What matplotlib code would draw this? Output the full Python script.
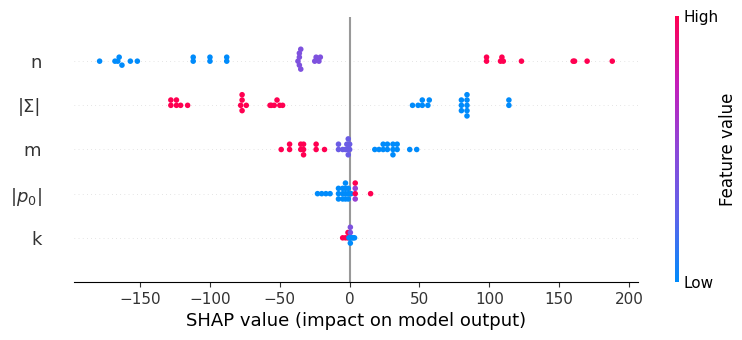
import numpy as np
import matplotlib
matplotlib.use("Agg")
import matplotlib.pyplot as plt
from matplotlib.colors import LinearSegmentedColormap

# features, top to bottom
features = ["n", "|Σ|", "m", "$|p_0|$", "k"]

# SHAP values and (normalised) feature values per feature
n_shap = [-179, -168, -166, -165, -163, -157, -152, -112, -112, -100, -100, -88, -88,
          -37, -36, -36, -36, -35, -35, -25, -24, -22, -21,
          98, 98, 108, 109, 110, 123, 160, 161, 170, 188]
n_feat = [0.0] * 13 + [0.42] * 10 + [1.0] * 10

sig_shap = [-128, -128, -124, -124, -121, -116, -78, -77, -77, -77, -74,
            -57, -56, -54, -52, -50, -48,
            45, 49, 52, 52, 56, 57, 80, 80, 80, 84, 84, 84, 84, 84, 114, 114]
sig_feat = [1.0] * 17 + [0.0] * 16

m_shap = [-49, -43, -43, -35, -35, -33, -33, -33, -24, -24, -18,
          -8, -8, -5, -3, -2, -2, -1, -1, -1, -1, 0, 0,
          18, 21, 24, 24, 27, 27, 31, 31, 31, 34, 34, 43, 48]
m_feat = [1.0] * 11 + [0.32] * 12 + [0.0] * 13

p0_shap = [-23, -20, -17, -14, -8, -8, -8, -5, -5, -5, -3, -3, -3, -3, -1, -1, -1, 1,
           4, 4, 4, 4, 15]
p0_feat = [0.0] * 18 + [1.0, 0.55, 0.55, 1.0, 1.0]

k_shap = [-5, -3, -1.2, -1.2, 0.5, 0.5, 0.5, 0.5, 2.5, 3.5, -0.5, 1.5]
k_feat = [1.0, 1.0, 1.0, 1.0, 0.0, 0.42, 0.0, 0.42, 0.0, 0.0, 0.0, 0.0]

shap_rows = [n_shap, sig_shap, m_shap, p0_shap, k_shap]
feat_rows = [n_feat, sig_feat, m_feat, p0_feat, k_feat]

red_blue = LinearSegmentedColormap.from_list(
    "red_blue", ["#008bfb", "#5f63ea", "#8d48d8", "#c51db8", "#ff0051"])

fig = plt.figure(figsize=(7.42, 3.4), dpi=100)
ax = fig.add_axes([0.0997, 0.1706, 0.760, 0.7794])
cax = fig.add_axes([0.9095, 0.1706, 0.0055, 0.7824])

row_height = 0.4
num = len(features)
for i, (shaps, fvals) in enumerate(zip(shap_rows, feat_rows)):
    pos = num - 1 - i
    shaps = np.array(shaps, dtype=float)
    fvals = np.array(fvals, dtype=float)
    ax.axhline(y=pos, color="#cccccc", lw=0.5, dashes=(1, 5), zorder=-1)
    # beeswarm layout (same binning scheme as shap)
    nbins = 100
    quant = np.round(nbins * (shaps - shaps.min()) / (shaps.max() - shaps.min() + 1e-8))
    inds = np.argsort(quant, kind="stable")
    layer = 0
    last_bin = -1
    ys = np.zeros(len(shaps))
    for ind in inds:
        if quant[ind] != last_bin:
            layer = 0
        ys[ind] = np.ceil(layer / 2) * ((layer % 2) * 2 - 1)
        layer += 1
        last_bin = quant[ind]
    ys *= 0.9 * (row_height / np.max(ys + 1))
    ax.scatter(shaps, pos + ys, c=fvals, cmap=red_blue, vmin=0, vmax=1,
               s=16, linewidth=0, alpha=1, rasterized=False, zorder=3)

ax.axvline(x=0, color="#999999", zorder=-1)

ax.xaxis.set_ticks_position("bottom")
ax.yaxis.set_ticks_position("none")
ax.spines["right"].set_visible(False)
ax.spines["top"].set_visible(False)
ax.spines["left"].set_visible(False)
ax.tick_params(color="#333333", labelcolor="#333333")
ax.set_yticks(range(num))
ax.set_yticklabels(features[::-1], fontsize=13)
ax.tick_params("y", length=20, width=0.5, which="major")
ax.tick_params("x", labelsize=11)
ax.set_ylim(-1, num)
ax.set_xlabel("SHAP value (impact on model output)", fontsize=13)

sm = plt.cm.ScalarMappable(cmap=red_blue, norm=plt.Normalize(0, 1))
cb = fig.colorbar(sm, cax=cax, ticks=[0, 1])
cb.set_ticklabels(["Low", "High"])
cb.set_label("Feature value", size=12, labelpad=0)
cb.ax.tick_params(labelsize=11, length=0)
cb.outline.set_visible(False)

fig.savefig("out.png", dpi=100)
